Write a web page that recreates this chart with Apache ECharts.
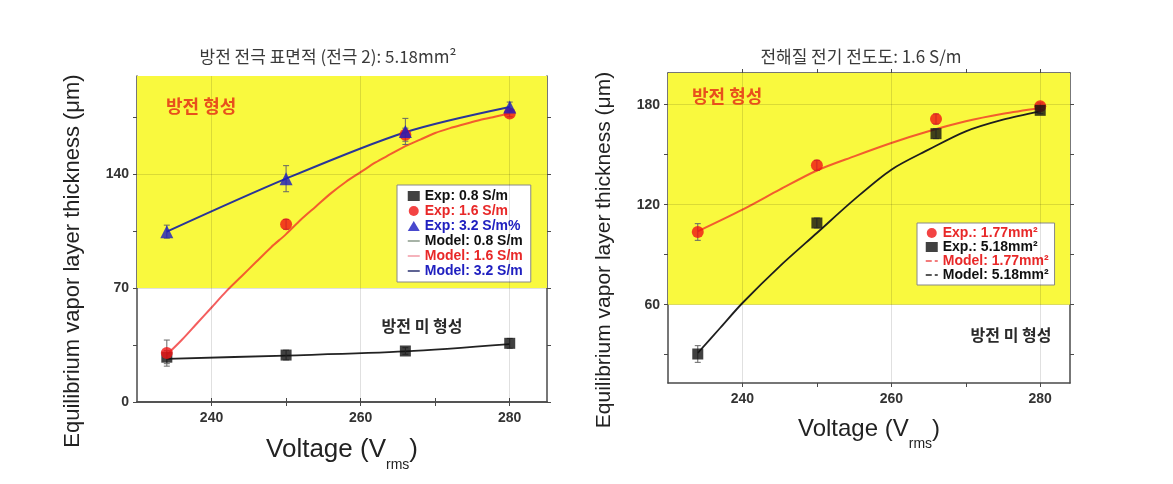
<!DOCTYPE html>
<html>
<head>
<meta charset="utf-8">
<script src="https://cdn.jsdelivr.net/npm/echarts@6/dist/echarts.min.js"></script>
<style>
  html, body { margin: 0; padding: 0; background: #fff; }
  #main { width: 1173px; height: 484px; }
</style>
</head>
<body>
<div id="main"></div>
<script>
// 측정 전압
const voltages = [234, 250, 266, 280];

// 왼쪽 그래프: 전극 2 (5.18mm2), 전도도별
const expL08 = [27.5, 28.8, 31.3, 36];
const expL16 = [30, 109, 164, 177];
const expL32 = [104.5, 137, 166, 181];
const errL08 = [4, 3, 2, 3];
const errL16 = [8, 3, 4, 2];
const errL32 = [4, 8, 8, 3];
const modelL08V = [234, 250, 266, 280];
const modelL08 = [26.5, 28.5, 31, 35.5];
const modelL16V = [234, 236, 238, 240, 242, 244, 246, 248, 250, 252, 254, 256, 258, 260, 262, 264, 266, 268, 270, 272, 274, 276, 278, 280];
const modelL16 = [29, 38, 48, 58, 68, 77, 86, 95, 103, 112, 120, 128, 135, 141, 147, 152, 157, 161, 165, 168, 170.5, 173, 175, 177];
const modelL32V = [234, 250, 266, 280];
const modelL32 = [104.5, 137, 165.5, 181];

// 오른쪽 그래프: 전도도 1.6 S/m, 전극 면적별
const expR177 = [103.6, 143.6, 171.4, 179];
const expR518 = [30.4, 109, 162.6, 176.6];
const errR177 = [5, 3, 3, 2];
const errR518 = [5, 3, 3, 2];
const modelR177V = [234, 240, 245, 250, 255, 260, 265, 270, 275, 280];
const modelR177 = [104, 117, 129, 140.5, 149, 157, 164, 170, 174.5, 178];
const modelR518V = [234, 237, 240, 245, 250, 255, 260, 265, 270, 275, 280];
const modelR518 = [31, 46, 61, 83, 103, 123, 141, 153, 164, 171, 176];

// 축 눈금
const xTicks = [240, 250, 260, 270, 280];
const xLabels = [240, 260, 280];
const yTicksL = [0, 35, 70, 105, 140, 175];
const yLabelsL = [0, 70, 140];
const yTicksR = [30, 60, 90, 120, 150, 180];
const yLabelsR = [60, 120, 180];

const pair = (xs, ys) => xs.map((x, i) => [x, ys[i]]);
const errData = (ys, es) => voltages.map((x, i) => [x, ys[i] - es[i], ys[i] + es[i]]);

const latin = "'Liberation Sans', Arial, sans-serif";
const korean = "'Noto Sans CJK KR', sans-serif";

function errRender(params, api) {
  const x = api.value(0);
  const top = api.coord([x, api.value(2)]);
  const bot = api.coord([x, api.value(1)]);
  const st = { stroke: '#666', lineWidth: 1 };
  return {
    type: 'group',
    children: [
      { type: 'line', shape: { x1: top[0], y1: top[1], x2: bot[0], y2: bot[1] }, style: st },
      { type: 'line', shape: { x1: top[0] - 3, y1: top[1], x2: top[0] + 3, y2: top[1] }, style: st },
      { type: 'line', shape: { x1: bot[0] - 3, y1: bot[1], x2: bot[0] + 3, y2: bot[1] }, style: st }
    ]
  };
}

function xAxisPair(grid, max, gap, size) {
  const base = {
    gridIndex: grid, type: 'value', min: 230, max: max,
    axisLine: { show: true, lineStyle: { color: '#4a4a4a', width: 1.5 } },
    axisTick: { show: true, inside: false, length: 4, customValues: xTicks, lineStyle: { color: '#4a4a4a' } },
    splitLine: { show: false }
  };
  return [
    Object.assign({}, base, {
      position: 'bottom',
      axisLabel: { customValues: xLabels, margin: 9, color: '#333', fontSize: 14, fontWeight: 'bold', fontFamily: latin },
      name: '{a|Voltage (V}{b|rms}{a|)}',
      nameLocation: 'middle', nameGap: gap,
      nameTextStyle: {
        rich: {
          a: { fontSize: size, fontFamily: latin, color: '#222' },
          b: { fontSize: 14, fontFamily: latin, color: '#222', padding: [30, 0, 0, 0] }
        }
      }
    }),
    Object.assign({}, base, { position: 'top', axisLabel: { show: false } })
  ];
}

function yAxisPair(grid, min, max, ticks, labels, size) {
  const base = {
    gridIndex: grid, type: 'value', min: min, max: max,
    axisLine: { show: true, lineStyle: { color: '#4a4a4a', width: 1.5 } },
    axisTick: { show: true, inside: false, length: 4, customValues: ticks, lineStyle: { color: '#4a4a4a' } },
    splitLine: { show: false }
  };
  return [
    Object.assign({}, base, {
      position: 'left',
      axisLabel: { customValues: labels, margin: 8, color: '#333', fontSize: 14, fontWeight: 'bold', fontFamily: latin },
      name: 'Equilibrium vapor layer thickness (μm)',
      nameLocation: 'middle', nameRotate: 90, nameGap: 53,
      nameTextStyle: { fontSize: size, fontFamily: latin, color: '#222', padding: [0, 44, 0, 0] }
    }),
    Object.assign({}, base, { position: 'right', axisLabel: { show: false } })
  ];
}

function gridLines(xs, ys) {
  return {
    silent: true, symbol: 'none', label: { show: false },
    lineStyle: { color: 'rgba(0,0,0,0.12)', width: 1, type: 'solid' },
    data: xs.map(v => ({ xAxis: v })).concat(ys.map(v => ({ yAxis: v })))
  };
}

// 모델 범례 아이콘: 기호 없이 짧은 선만
const lineIcon = (color, type) => ({
  itemStyle: { opacity: 0 },
  lineStyle: { color: color, width: 1.5, type: type || 'solid', opacity: 1 }
});

const chart = echarts.init(document.getElementById('main'));

chart.setOption({
  backgroundColor: '#fff',
  animation: false,
  grid: [
    { left: 137, top: 76, width: 410, height: 326 },
    { left: 668, top: 73, width: 402, height: 310 }
  ],
  xAxis: xAxisPair(0, 285, 26, 26).concat(xAxisPair(1, 284, 24, 24)),
  yAxis: yAxisPair(0, 0, 200, yTicksL, yLabelsL, 22).concat(yAxisPair(1, 13, 199, yTicksR, yLabelsR, 21)),
  legend: [
    {
      orient: 'vertical', left: 397, top: 185,
      itemWidth: 12, itemHeight: 10, itemGap: 1,
      backgroundColor: '#fff', borderColor: '#888', borderWidth: 1, borderRadius: 0,
      padding: [4, 8, 4, 10],
      textStyle: { fontSize: 14, fontWeight: 'bold', fontFamily: latin },
      data: [
        { name: 'Exp: 0.8 S/m', textStyle: { color: '#111' } },
        { name: 'Exp: 1.6 S/m', textStyle: { color: '#e82828' } },
        { name: 'Exp: 3.2 S/m%', textStyle: { color: '#2020c0' } },
        Object.assign({ name: 'Model: 0.8 S/m', textStyle: { color: '#111' } }, lineIcon('#8a9a8a')),
        Object.assign({ name: 'Model: 1.6 S/m', textStyle: { color: '#e82828' } }, lineIcon('#f29aa6')),
        Object.assign({ name: 'Model: 3.2 S/m', textStyle: { color: '#2020c0' } }, lineIcon('#2a3070'))
      ]
    },
    {
      orient: 'vertical', left: 917, top: 223,
      itemWidth: 12, itemHeight: 10, itemGap: 0,
      backgroundColor: '#fff', borderColor: '#888', borderWidth: 1, borderRadius: 0,
      padding: [3, 6, 3, 8],
      textStyle: { fontSize: 14, fontWeight: 'bold', fontFamily: latin },
      data: [
        { name: 'Exp.: 1.77mm²', textStyle: { color: '#e82828' } },
        { name: 'Exp.: 5.18mm²', textStyle: { color: '#111' } },
        Object.assign({ name: 'Model: 1.77mm²', textStyle: { color: '#e82828' } }, lineIcon('#f05050', 'dashed')),
        Object.assign({ name: 'Model: 5.18mm²', textStyle: { color: '#111' } }, lineIcon('#222', 'dashed'))
      ]
    }
  ],
  graphic: [
    { type: 'text', x: 328, y: 57, style: { text: '방전 전극 표면적 (전극 2): 5.18mm²', align: 'center', verticalAlign: 'middle', font: "17px " + korean, fill: '#3a3a3a' } },
    { type: 'text', x: 861, y: 57, style: { text: '전해질 전기 전도도: 1.6 S/m', align: 'center', verticalAlign: 'middle', font: "17px " + korean, fill: '#3a3a3a' } },
    { type: 'text', x: 166, y: 106, z: 10, style: { text: '방전 형성', align: 'left', verticalAlign: 'middle', font: "bold 18px " + korean, fill: '#e8501c' } },
    { type: 'text', x: 692, y: 96, z: 10, style: { text: '방전 형성', align: 'left', verticalAlign: 'middle', font: "bold 18px " + korean, fill: '#e8501c' } },
    { type: 'text', x: 422, y: 326, z: 10, style: { text: '방전 미 형성', align: 'center', verticalAlign: 'middle', font: "bold 16px " + korean, fill: '#2a2a2a' } },
    { type: 'text', x: 1011, y: 335, z: 10, style: { text: '방전 미 형성', align: 'center', verticalAlign: 'middle', font: "bold 16px " + korean, fill: '#2a2a2a' } }
  ],
  series: [
    // 배경 (방전 형성 영역) 및 격자
    {
      type: 'line', xAxisIndex: 0, yAxisIndex: 0, data: [], z: 0, silent: true,
      markArea: { silent: true, itemStyle: { color: '#f9f93e' }, data: [[{ yAxis: 70 }, { yAxis: 200 }]] },
      markLine: gridLines(xLabels, [70, 140])
    },
    {
      type: 'line', xAxisIndex: 2, yAxisIndex: 2, data: [], z: 0, silent: true,
      markArea: { silent: true, itemStyle: { color: '#f9f93e' }, data: [[{ yAxis: 60 }, { yAxis: 199 }]] },
      markLine: gridLines(xLabels, yLabelsR)
    },
    // 왼쪽 모델
    { name: 'Model: 0.8 S/m', type: 'line', xAxisIndex: 0, yAxisIndex: 0, z: 3, smooth: 0.3, symbol: 'none',
      data: pair(modelL08V, modelL08), lineStyle: { color: '#222', width: 1.8 } },
    { name: 'Model: 1.6 S/m', type: 'line', xAxisIndex: 0, yAxisIndex: 0, z: 3, smooth: 0.3, symbol: 'none',
      data: pair(modelL16V, modelL16), lineStyle: { color: 'rgba(240,40,40,0.75)', width: 2 } },
    { name: 'Model: 3.2 S/m', type: 'line', xAxisIndex: 0, yAxisIndex: 0, z: 3, smooth: 0.3, symbol: 'none',
      data: pair(modelL32V, modelL32), lineStyle: { color: '#2a3598', width: 2 } },
    // 왼쪽 오차 막대
    { type: 'custom', xAxisIndex: 0, yAxisIndex: 0, z: 4, renderItem: errRender, encode: { x: 0, y: [1, 2] }, data: errData(expL08, errL08) },
    { type: 'custom', xAxisIndex: 0, yAxisIndex: 0, z: 4, renderItem: errRender, encode: { x: 0, y: [1, 2] }, data: errData(expL16, errL16) },
    { type: 'custom', xAxisIndex: 0, yAxisIndex: 0, z: 4, renderItem: errRender, encode: { x: 0, y: [1, 2] }, data: errData(expL32, errL32) },
    // 왼쪽 실험값
    { name: 'Exp: 0.8 S/m', type: 'scatter', xAxisIndex: 0, yAxisIndex: 0, z: 5, symbol: 'rect', symbolSize: 11,
      data: pair(voltages, expL08), itemStyle: { color: '#111' } },
    { name: 'Exp: 1.6 S/m', type: 'scatter', xAxisIndex: 0, yAxisIndex: 0, z: 5, symbol: 'circle', symbolSize: 12,
      data: pair(voltages, expL16), itemStyle: { color: '#f01414' } },
    { name: 'Exp: 3.2 S/m%', type: 'scatter', xAxisIndex: 0, yAxisIndex: 0, z: 5, symbol: 'triangle', symbolSize: 13,
      data: pair(voltages, expL32), itemStyle: { color: '#1a1ac0' } },
    // 오른쪽 모델
    { name: 'Model: 1.77mm²', type: 'line', xAxisIndex: 2, yAxisIndex: 2, z: 3, smooth: 0.3, symbol: 'none',
      data: pair(modelR177V, modelR177), lineStyle: { color: 'rgba(240,40,40,0.75)', width: 2 } },
    { name: 'Model: 5.18mm²', type: 'line', xAxisIndex: 2, yAxisIndex: 2, z: 3, smooth: 0.3, symbol: 'none',
      data: pair(modelR518V, modelR518), lineStyle: { color: '#1e1e1e', width: 1.8 } },
    // 오른쪽 오차 막대
    { type: 'custom', xAxisIndex: 2, yAxisIndex: 2, z: 4, renderItem: errRender, encode: { x: 0, y: [1, 2] }, data: errData(expR177, errR177) },
    { type: 'custom', xAxisIndex: 2, yAxisIndex: 2, z: 4, renderItem: errRender, encode: { x: 0, y: [1, 2] }, data: errData(expR518, errR518) },
    // 오른쪽 실험값
    { name: 'Exp.: 1.77mm²', type: 'scatter', xAxisIndex: 2, yAxisIndex: 2, z: 5, symbol: 'circle', symbolSize: 12,
      data: pair(voltages, expR177), itemStyle: { color: '#f01414' } },
    { name: 'Exp.: 5.18mm²', type: 'scatter', xAxisIndex: 2, yAxisIndex: 2, z: 5, symbol: 'rect', symbolSize: 11,
      data: pair(voltages, expR518), itemStyle: { color: '#111' } }
  ]
});
</script>
</body>
</html>
